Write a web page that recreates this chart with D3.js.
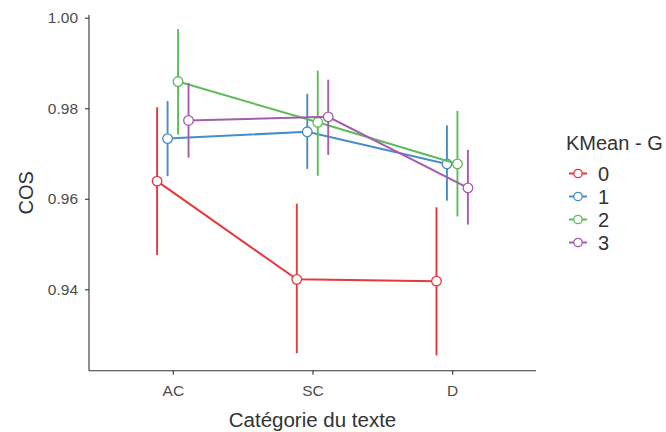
<!DOCTYPE html>
<html>
<head>
<meta charset="utf-8">
<script src="https://cdn.jsdelivr.net/npm/d3@7"></script>
<style>
  body { margin: 0; background: #fff; }
  svg { display: block; font-family: "Liberation Sans", Arial, sans-serif; }
</style>
</head>
<body>
<svg id="chart" width="666" height="432"></svg>
<script>
const categories = ["AC", "SC", "D"];
const groups = ["0", "1", "2", "3"];
const colors = ["#e8383b", "#4a8cc8", "#5dbb5a", "#a55cb0"];
// mean, lower, upper per group per category
const meanVals = [
  [0.9639, 0.9422, 0.9418],
  [0.9733, 0.9748, 0.9677],
  [0.9859, 0.9769, 0.9677],
  [0.9773, 0.9781, 0.9624]
];
const lowerVals = [
  [0.9478, 0.9261, 0.9256],
  [0.9652, 0.9668, 0.9598],
  [0.9744, 0.9653, 0.9563],
  [0.9693, 0.9699, 0.9545]
];
const upperVals = [
  [0.9800, 0.9587, 0.9579],
  [0.9814, 0.9830, 0.9760],
  [0.9973, 0.9881, 0.9792],
  [0.9854, 0.9861, 0.9706]
];
const yTicks = [0.94, 0.96, 0.98, 1.00];

(function () {
const svg = d3.select("#chart");
const pLeft = 89, pRight = 536, pTop = 15, pBottom = 370.7;

const x = d3.scalePoint().domain(categories).range([pLeft, pRight]).padding(0.6);
const y = d3.scaleLinear().domain([0.92202, 1.0006]).range([pBottom, pTop]);
const step = x.step();
const dodge = 0.3;
const off = i => (i - 1.5) * dodge / 4 * step;

// axes
const gx = svg.append("g").attr("transform", `translate(0,${pBottom})`)
  .call(d3.axisBottom(x).tickSize(4).tickPadding(10));
const gy = svg.append("g").attr("transform", `translate(${pLeft},0)`)
  .call(d3.axisLeft(y).tickValues(yTicks).tickFormat(d3.format(".2f")).tickSize(4).tickPadding(7));
[gx, gy].forEach(g => {
  g.select(".domain").attr("stroke", "#333").attr("stroke-width", 1.1);
  g.selectAll(".tick line").attr("stroke", "#333").attr("stroke-width", 1.1);
  g.selectAll(".tick text").attr("fill", "#4d4d4d").style("font-size", "15.5px");
});
gx.select(".domain").attr("d", `M${pLeft},0H${pRight}`);
gy.select(".domain").attr("d", `M0,${pBottom}V${pTop}`);

// data
groups.forEach((gName, gi) => {
  const pts = categories.map((c, ci) => ({
    x: x(c) + off(gi), m: meanVals[gi][ci], lo: lowerVals[gi][ci], hi: upperVals[gi][ci]
  }));
  const g = svg.append("g");
  g.append("path")
    .attr("d", d3.line().x(d => d.x).y(d => y(d.m))(pts))
    .attr("fill", "none").attr("stroke", colors[gi]).attr("stroke-width", 2);
  g.selectAll("line.err").data(pts).join("line")
    .attr("x1", d => d.x).attr("x2", d => d.x)
    .attr("y1", d => y(d.lo)).attr("y2", d => y(d.hi))
    .attr("stroke", colors[gi]).attr("stroke-width", 1.9).attr("stroke-linecap", "square");
  g.selectAll("circle").data(pts).join("circle")
    .attr("cx", d => d.x).attr("cy", d => y(d.m)).attr("r", 4.8)
    .attr("fill", "#fff").attr("stroke", colors[gi]).attr("stroke-width", 1.3);
});

// axis titles
svg.append("text").attr("x", (pLeft + pRight) / 2).attr("y", 427)
  .attr("text-anchor", "middle").attr("fill", "#333").style("font-size", "20.5px")
  .text("Catégorie du texte");
svg.append("text").attr("transform", `translate(33,${(pTop + pBottom) / 2}) rotate(-90)`)
  .attr("text-anchor", "middle").attr("fill", "#333").style("font-size", "20px")
  .text("COS");

// legend
const lg = svg.append("g");
lg.append("text").attr("x", 566).attr("y", 150).attr("fill", "#333")
  .style("font-size", "20px").text("KMean - G");
groups.forEach((gName, gi) => {
  const cy = 173.5 + gi * 23;
  lg.append("line").attr("x1", 569).attr("x2", 587).attr("y1", cy).attr("y2", cy)
    .attr("stroke", colors[gi]).attr("stroke-width", 2);
  lg.append("circle").attr("cx", 578).attr("cy", cy).attr("r", 4.2)
    .attr("fill", "#fff").attr("stroke", colors[gi]).attr("stroke-width", 1.3);
  lg.append("text").attr("x", 598).attr("y", cy + 7.5).attr("fill", "#333")
    .style("font-size", "20px").text(gName);
});
})();
</script>
</body>
</html>
